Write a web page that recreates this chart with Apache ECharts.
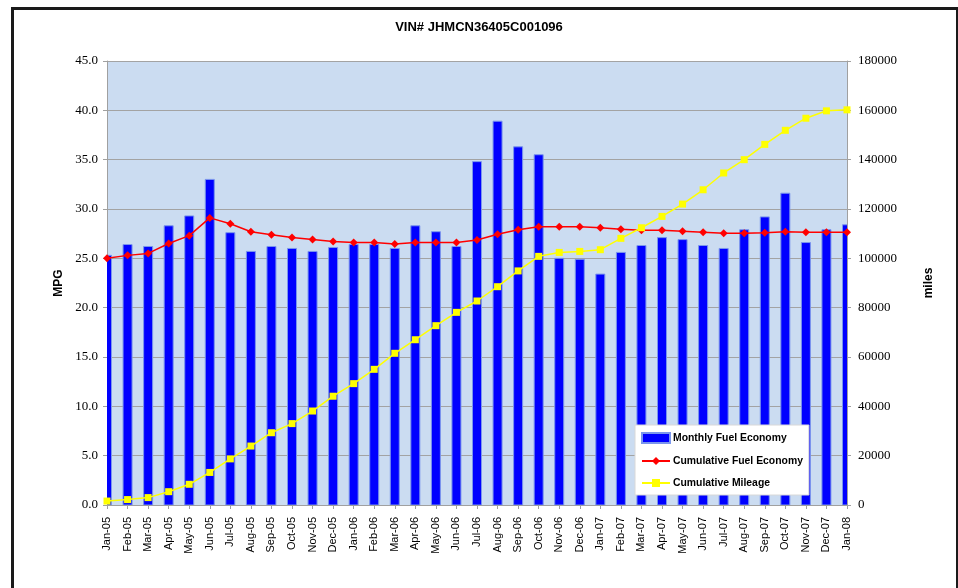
<!DOCTYPE html>
<html>
<head>
<meta charset="utf-8">
<script src="https://cdn.jsdelivr.net/npm/echarts@6/dist/echarts.min.js"></script>
<style>
html,body{margin:0;padding:0;background:#fff;}
#chart{width:958px;height:588px;}
</style>
</head>
<body>
<div id="chart"></div>
<script>
var months = ['Jan-05','Feb-05','Mar-05','Apr-05','May-05','Jun-05','Jul-05','Aug-05','Sep-05','Oct-05','Nov-05','Dec-05',
  'Jan-06','Feb-06','Mar-06','Apr-06','May-06','Jun-06','Jul-06','Aug-06','Sep-06','Oct-06','Nov-06','Dec-06',
  'Jan-07','Feb-07','Mar-07','Apr-07','May-07','Jun-07','Jul-07','Aug-07','Sep-07','Oct-07','Nov-07','Dec-07','Jan-08'];
var monthlyFuelEconomy = [25.3,26.4,26.2,28.3,29.3,33.0,27.6,25.7,26.2,26.0,25.7,26.1,
  26.4,26.4,26.0,28.3,27.7,26.2,34.8,38.9,36.3,35.5,25.0,24.9,
  23.4,25.6,26.3,27.1,26.9,26.3,26.0,27.9,29.2,31.6,26.6,27.9,28.4];
var cumulativeFuelEconomy = [25.0,25.3,25.5,26.5,27.3,29.1,28.5,27.7,27.4,27.1,26.9,26.7,
  26.6,26.6,26.45,26.6,26.6,26.6,26.85,27.45,27.9,28.2,28.2,28.2,
  28.1,27.95,27.85,27.85,27.75,27.65,27.55,27.55,27.6,27.7,27.65,27.65,27.65];
var cumulativeMileage = [1600,2200,3000,5400,8400,13200,18700,23900,29300,33000,38100,44100,
  49200,55000,61500,67000,72700,78100,82700,88500,94900,100800,102400,102800,
  103500,108100,112400,117000,122000,127800,134600,140000,146200,151900,156800,159800,160200];
var mpgTicks = {min:0, max:45, interval:5};
var mileTicks = {min:0, max:180000, interval:20000};

var barData = monthlyFuelEconomy.map(function(v, i){ return [i, v]; });

var chart = echarts.init(document.getElementById('chart'), null, {renderer:'canvas'});
var sans = 'Liberation Sans';
var serif = 'Liberation Serif';
chart.setOption({
  animation:false,
  backgroundColor:'#ffffff',
  title:{
    text:'VIN# JHMCN36405C001096',
    left:'center', top:16,
    textStyle:{fontFamily:sans, fontWeight:'bold', fontSize:13, color:'#000'}
  },
  graphic:[{
    type:'rect', left:10, top:6, z:100,
    shape:{x:0,y:0,width:945,height:640},
    style:{fill:'none', stroke:'#1a1a1a', lineWidth:3}
  }],
  legend:{
    orient:'vertical',
    left:635, top:425,
    padding:[7,6,7,6],
    backgroundColor:'#ffffff',
    borderColor:'#d8d8d8',
    borderWidth:1,
    itemWidth:28, itemHeight:10, itemGap:12,
    z:20,
    textStyle:{fontFamily:sans, fontWeight:'bold', fontSize:10.4, color:'#000', padding:[0,0,0,-2]},
    data:[{name:'Monthly Fuel Economy', icon:'rect'},'Cumulative Fuel Economy','Cumulative Mileage']
  },
  grid:{
    left:107, right:111, top:61, bottom:83,
    show:true, backgroundColor:'#CBDCF1', borderWidth:0
  },
  xAxis:{
    type:'category',
    data:months,
    boundaryGap:false,
    axisLine:{lineStyle:{color:'#a0a0a0', width:1}},
    axisTick:{show:true, length:4, lineStyle:{color:'#a0a0a0'}},
    axisLabel:{interval:0, rotate:90, margin:12, fontFamily:sans, fontSize:11, color:'#000'},
    splitLine:{show:false}
  },
  yAxis:[{
    type:'value',
    min:mpgTicks.min, max:mpgTicks.max, interval:mpgTicks.interval,
    name:'MPG', nameLocation:'middle', nameRotate:90, nameGap:41,
    nameTextStyle:{fontFamily:sans, fontWeight:'bold', fontSize:12, color:'#000'},
    axisLine:{show:true, lineStyle:{color:'#a0a0a0'}},
    axisTick:{show:true, length:4, lineStyle:{color:'#a0a0a0'}},
    axisLabel:{margin:9, fontFamily:serif, fontSize:13, color:'#000', formatter:function(v){return v.toFixed(1);}},
    splitLine:{show:true, lineStyle:{color:'#a3a3a3', width:1}}
  },{
    type:'value',
    position:'right',
    min:mileTicks.min, max:mileTicks.max, interval:mileTicks.interval,
    name:'miles', nameLocation:'middle', nameRotate:90, nameGap:76,
    nameTextStyle:{fontFamily:sans, fontWeight:'bold', fontSize:12, color:'#000'},
    axisLine:{show:true, lineStyle:{color:'#a0a0a0'}},
    axisTick:{show:true, length:4, lineStyle:{color:'#a0a0a0'}},
    axisLabel:{margin:11, fontFamily:serif, fontSize:13, color:'#000', formatter:function(v){return String(v);}},
    splitLine:{show:false}
  }],
  series:[{
    name:'Monthly Fuel Economy',
    type:'custom',
    yAxisIndex:0,
    data:barData,
    encode:{x:0, y:1},
    clip:true,
    itemStyle:{color:'#0000FF', borderColor:'#7B96EC', borderWidth:1},
    renderItem:function(params, api){
      var idx = api.value(0), val = api.value(1);
      var top = api.coord([idx, val]);
      var base = api.coord([idx, 0]);
      var w = 9;
      return {
        type:'rect',
        shape:{x:top[0]-w/2, y:top[1], width:w, height:base[1]-top[1]},
        style:{fill:'#0000FF', stroke:'#7B96EC', lineWidth:1}
      };
    },
    z:2
  },{
    name:'Cumulative Fuel Economy',
    type:'line',
    yAxisIndex:0,
    data:cumulativeFuelEconomy,
    symbol:'diamond', symbolSize:8,
    lineStyle:{color:'#FF0000', width:1.5},
    itemStyle:{color:'#FF0000'},
    z:5
  },{
    name:'Cumulative Mileage',
    type:'line',
    yAxisIndex:1,
    data:cumulativeMileage,
    symbol:'rect', symbolSize:7,
    lineStyle:{color:'#FFFF00', width:1.5},
    itemStyle:{color:'#FFFF00'},
    z:6
  }]
});
</script>
</body>
</html>
